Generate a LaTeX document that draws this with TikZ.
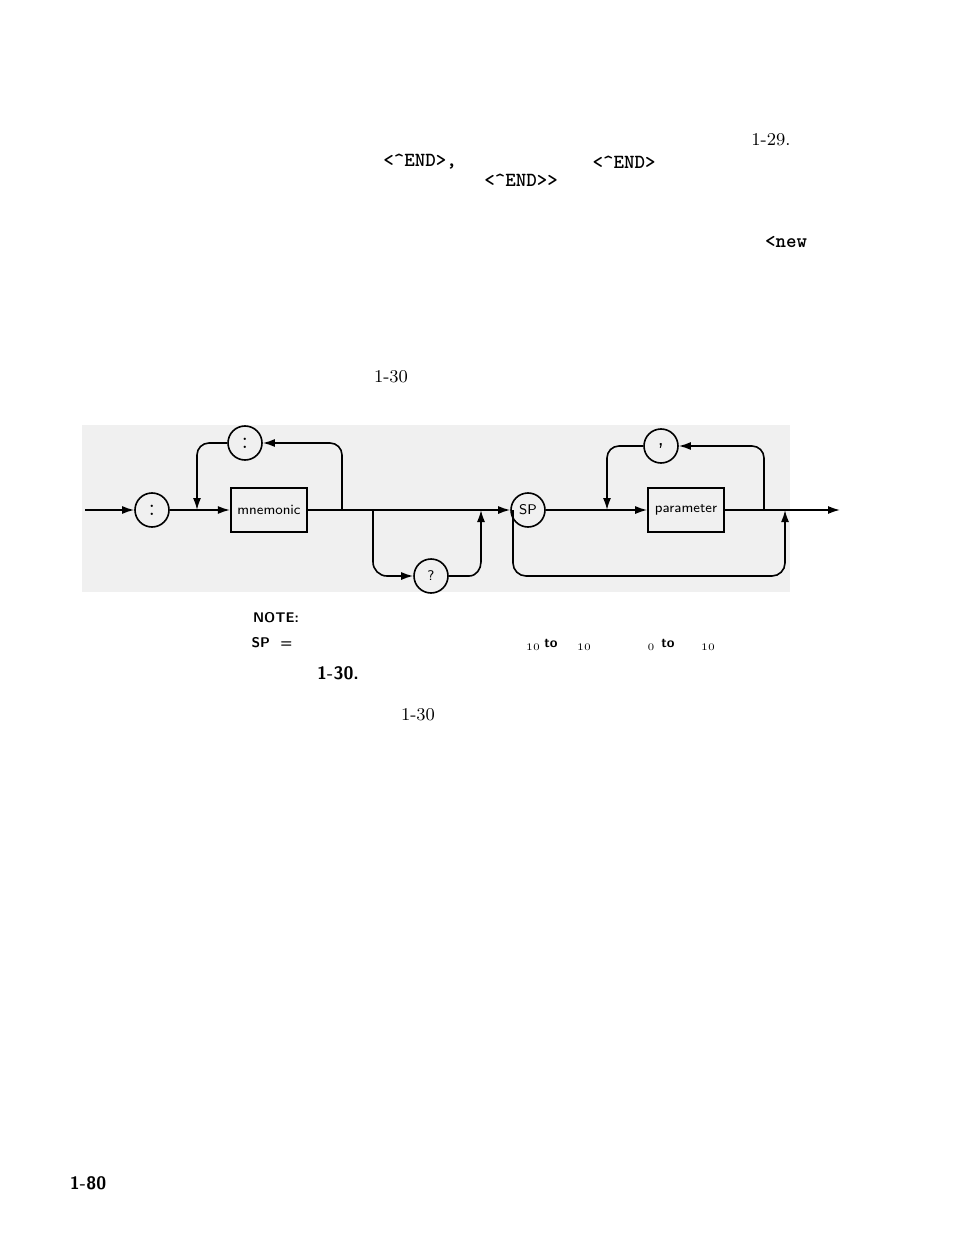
\documentclass[tikz,border=0pt]{standalone}
\usepackage{tikz}
\usetikzlibrary{arrows.meta}
\begin{document}
\begin{tikzpicture}[x=0.5pt,y=-0.5pt,
  term/.style={draw,thick,circle,minimum size=17pt,inner sep=0pt,font=\sffamily\scriptsize},
  word/.style={draw,thick,minimum width=38pt,minimum height=22pt,font=\sffamily\scriptsize},
  flow/.style={thick,-{Latex[length=6pt,width=4pt]}},
  pagetext/.style={font=\small},
  code/.style={font=\ttfamily\bfseries},
  notetext/.style={font=\sffamily\bfseries\scriptsize}]
\useasboundingbox (0,0) rectangle (954,1245);
\fill[black!6] (82,425) rectangle (790,592);

% page text
\node[pagetext] (p129) at (771,140) {1-29.};
\node[code] (e1) at (420,162) {<\textasciicircum END>,};
\node[code] (e2) at (624,162) {<\textasciicircum END>};
\node[code] (e3) at (521,180) {<\textasciicircum END>>};
\node[code] (nw) at (786,242) {<new};
\node[pagetext] (p130a) at (391,377) {1-30};

% diagram
\coordinate (in) at (85,510);
\node[term,font=\large] (c1) at (152,510) {:};
\node[word] (mn) at (269,510) {mnemonic};
\node[term,font=\large] (c2) at (245,443) {:};
\node[term] (q) at (431,576) {?};
\node[term] (sp) at (528,510) {SP};
\node[word] (par) at (686,510) {parameter};
\node[term,font=\large\sffamily] (cm) at (661,446) {,};
\coordinate (out) at (840,510);

\draw[flow] (in) -- (c1);
\draw[flow] (c1) -- (mn);
\draw[flow] (mn.east) -- (342,510) -- (342,455) to[out=90,in=0] (330,443) -- (c2);
\draw[flow] (c2) -- (209,443) to[out=180,in=90] (197,455) -- (197,510);
\draw[flow] (mn.east) -- (sp);
\draw[flow] (373,510) -- (373,562) to[out=-90,in=180] (387,576) -- (q);
\draw[flow] (q) -- (469,576) to[out=0,in=-90] (481,562) -- (481,510);
\draw[flow] (513,510) -- (513,563) to[out=-90,in=180] (526,576) -- (772,576) to[out=0,in=-90] (785,563) -- (785,510);
\draw[flow] (sp) -- (par);
\draw[flow] (par.east) -- (764,510) -- (764,458) to[out=90,in=0] (752,446) -- (cm);
\draw[flow] (cm) -- (619,446) to[out=180,in=90] (607,458) -- (607,510);
\draw[flow] (par.east) -- (out);

% note
\node[notetext] (note) at (276,618) {NOTE:};
\node[notetext] (spq) at (272,643) {SP \ =};
\node[font=\tiny] (s1) at (533,647) {10};
\node[notetext] (to1) at (551,643) {to};
\node[font=\tiny] (s2) at (584,647) {10};
\node[font=\tiny] (s3) at (651,647) {0};
\node[notetext] (to2) at (668,643) {to};
\node[font=\tiny] (s4) at (708,647) {10};
\node[font=\sffamily\bfseries\small] (fig) at (338,673) {1-30.};
\node[pagetext] (p130b) at (418,715) {1-30};
\node[font=\sffamily\bfseries\small] (pg) at (88,1183) {1-80};
\end{tikzpicture}
\end{document}
